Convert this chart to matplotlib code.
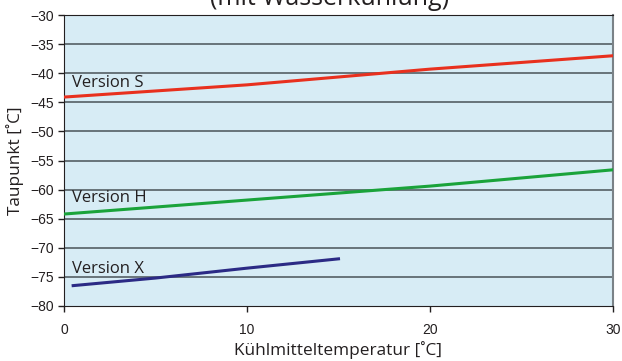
import matplotlib
matplotlib.use("Agg")
import matplotlib.pyplot as plt

x_s = [0, 10, 20, 30]
y_s = [-44.1, -42.0, -39.3, -37.0]
x_h = [0, 10, 20, 30]
y_h = [-64.2, -61.8, -59.4, -56.6]
x_x = [0.5, 5, 10, 15]
y_x = [-76.5, -75.2, -73.5, -71.9]
labels = ["Version S", "Version H", "Version X"]
label_y = [-41.6, -61.4, -73.6]

fig = plt.figure(figsize=(6.22, 3.61), dpi=100)
ax = fig.add_axes([0.1029, 0.1524, 0.8826, 0.806])
ax.set_facecolor("#d7ecf5")

for yv in range(-75, -29, 5):
    ax.axhline(yv, color="#5f6a70", lw=1.3, zorder=1)

ax.plot(x_s, y_s, color="#e8301e", lw=2.2, zorder=3)
ax.plot(x_h, y_h, color="#1aa33a", lw=2.2, zorder=3)
ax.plot(x_x, y_x, color="#2b2a85", lw=2.2, zorder=3)

for lab, ly in zip(labels, label_y):
    ax.text(0.45, ly, lab, fontsize=12, family="Open Sans", color="#231f20",
            va="center", ha="left", zorder=4)

ax.set_xlim(0, 30)
ax.set_ylim(-80, -30)
ax.set_xticks([0, 10, 20, 30])
ax.set_yticks(range(-80, -29, 5))
ax.tick_params(axis="both", direction="out", length=4, width=1, labelsize=10,
               colors="#231f20")
for lbl in ax.get_xticklabels() + ax.get_yticklabels():
    lbl.set_family("Liberation Sans")
ax.tick_params(axis="x", pad=8)
ax.tick_params(axis="y", pad=3)
ax.spines["left"].set_color("#231f20")
ax.spines["bottom"].set_color("#231f20")
ax.spines["top"].set_color("#231f20")
ax.spines["right"].set_color("#7a8287")
ax.spines["right"].set_linewidth(1.5)

ax.set_xlabel("Kühlmitteltemperatur [˚C]", fontsize=12.4, family="Open Sans",
              color="#231f20", labelpad=3)
ax.set_ylabel("Taupunkt [˚C]", fontsize=12.4, family="Open Sans",
              color="#231f20", labelpad=5)

fig.text(0.53, 0.986, "(mit Wasserkühlung)", fontsize=18, family="Open Sans",
         ha="center", va="baseline", color="#231f20")

fig.savefig("out.png", dpi=100)
